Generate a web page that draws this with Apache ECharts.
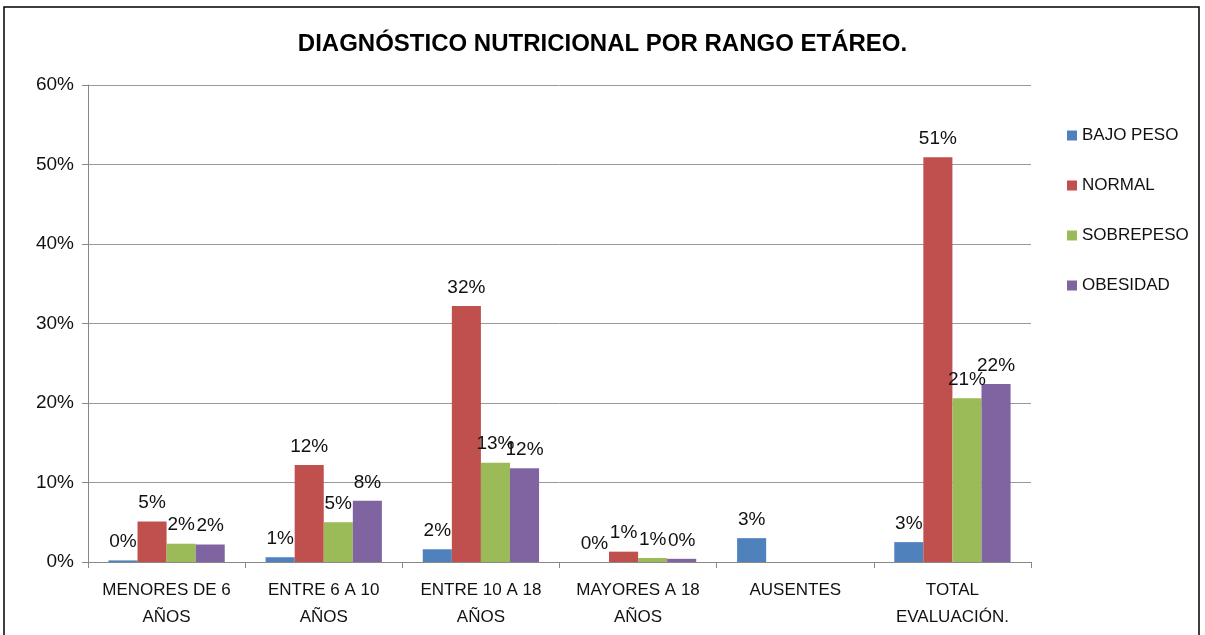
<!DOCTYPE html>
<html>
<head>
<meta charset="utf-8">
<script src="https://cdn.jsdelivr.net/npm/echarts@6/dist/echarts.min.js"></script>
<style>
  html, body { margin: 0; padding: 0; background: #fff; }
  #chart { width: 1205px; height: 635px; }
</style>
</head>
<body>
<div id="chart"></div>
<script>
'use strict'
// categorías y valores (%)
const categorias = ['MENORES DE 6\nAÑOS', 'ENTRE 6 A 10\nAÑOS', 'ENTRE 10 A 18\nAÑOS', 'MAYORES A 18\nAÑOS', 'AUSENTES', 'TOTAL\nEVALUACIÓN.'];
const bajoPeso = [0.2, 0.6, 1.6, 0, 3.0, 2.5];
const normal = [5.1, 12.2, 32.2, 1.3, null, 50.9];
const sobrepeso = [2.3, 5.0, 12.5, 0.5, null, 20.6];
const obesidad = [2.2, 7.7, 11.8, 0.4, null, 22.4];
const yTicks = [0, 10, 20, 30, 40, 50, 60];

const fuente = "'Liberation Sans', 'DejaVu Sans', sans-serif";
let chart = echarts.init(document.getElementById('chart'));

function serie(name, data, color) {
	return {
		name: name,
		type: 'bar',
		data: data,
		barGap: '0%',
		barCategoryGap: '26%',
		itemStyle: { color: color },
		label: {
			show: true,
			position: 'top',
			distance: 9,
			color: '#111',
			fontSize: 19,
			fontFamily: fuente,
			formatter: (p) => Math.round(p.value) + '%'
		}
	}
}

let option = {
	animation: false,
	title: {
		text: 'DIAGNÓSTICO NUTRICIONAL POR RANGO ETÁREO.',
		left: 'center',
		top: 27,
		textStyle: { fontSize: 24, fontWeight: 'bold', color: '#000', fontFamily: fuente }
	},
	legend: {
		orient: 'vertical',
		left: 1062,
		top: 122,
		itemGap: 33,
		itemWidth: 10,
		itemHeight: 10,
		icon: 'rect',
		data: ['BAJO PESO', 'NORMAL', 'SOBREPESO', 'OBESIDAD'],
		textStyle: { fontSize: 17, color: '#111', fontFamily: fuente }
	},
	grid: { left: 88, top: 85, width: 943, height: 477, containLabel: false },
	xAxis: {
		type: 'category',
		data: categorias,
		axisLine: { lineStyle: { color: '#888' } },
		axisTick: { show: true, length: 6, alignWithLabel: false, lineStyle: { color: '#888' } },
		axisLabel: { fontSize: 17, color: '#111', fontFamily: fuente, lineHeight: 27, margin: 15, interval: 0 }
	},
	yAxis: {
		type: 'value',
		min: yTicks[0],
		max: yTicks[yTicks.length - 1],
		interval: 10,
		axisLine: { show: true, lineStyle: { color: '#888' } },
		axisTick: { show: true, length: 6, lineStyle: { color: '#888' } },
		splitLine: { lineStyle: { color: '#999' } },
		axisLabel: { fontSize: 19, color: '#111', fontFamily: fuente, margin: 14, formatter: '{value}%' }
	},
	graphic: [{
		type: 'rect',
		shape: { x: 4, y: 7, width: 1195, height: 640 },
		style: { fill: 'none', stroke: '#000', lineWidth: 1.5 },
		silent: true
	}],
	series: [
		serie('BAJO PESO', bajoPeso, '#4F81BD'),
		serie('NORMAL', normal, '#C0504D'),
		serie('SOBREPESO', sobrepeso, '#9BBB59'),
		serie('OBESIDAD', obesidad, '#8064A2')
	]
};
chart.setOption(option);
</script>
</body>
</html>
